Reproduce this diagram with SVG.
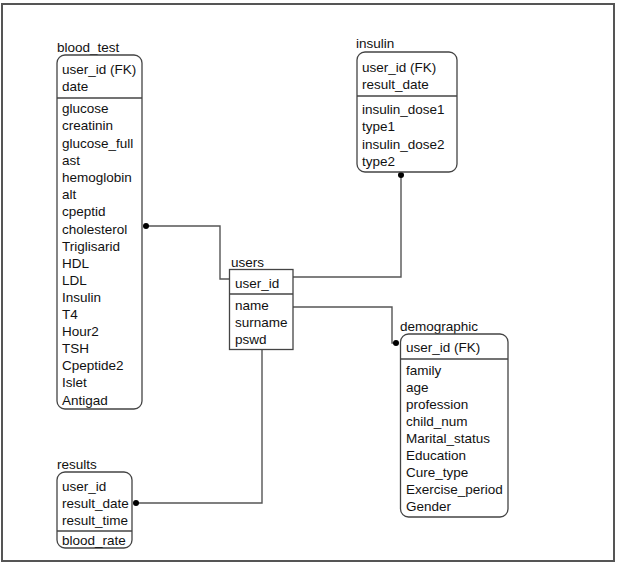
<svg xmlns="http://www.w3.org/2000/svg" width="617" height="563" viewBox="0 0 617 563">
<style>
text{font-family:"Liberation Sans",Arial,sans-serif;font-size:13.5px;fill:#111}
.box{fill:#fff;stroke:#444;stroke-width:1.3}
.div{stroke:#444;stroke-width:1.3}
.conn{fill:none;stroke:#555;stroke-width:1.4}
.dot{fill:#000}
</style>
<rect x="0" y="0" width="617" height="563" fill="#fff"/>
<rect x="2" y="4" width="612" height="557" fill="#fff" stroke="#555" stroke-width="2"/>

<g id="connectors">
<polyline class="conn" points="146,226 220,226 220,279 230,279"/>
<circle class="dot" cx="146" cy="226" r="3"/>
<polyline class="conn" points="401,175 401,277 293,277"/>
<circle class="dot" cx="401" cy="175" r="3"/>
<polyline class="conn" points="293,307 392,307 392,343 397,343"/>
<circle class="dot" cx="396" cy="343" r="3"/>
<polyline class="conn" points="262,350 262,503 137,503"/>
<circle class="dot" cx="136" cy="503" r="3"/>
</g>

<g id="blood_test">
<text x="57" y="52">blood_test</text>
<rect class="box" x="57" y="55" width="85" height="354" rx="8"/>
<line class="div" x1="57" y1="98" x2="142" y2="98"/>
<text x="62" y="74">user_id (FK)</text>
<text x="62" y="91">date</text>
<text x="62" y="113">glucose</text>
<text x="62" y="130">creatinin</text>
<text x="62" y="148">glucose_full</text>
<text x="62" y="165">ast</text>
<text x="62" y="182">hemoglobin</text>
<text x="62" y="199">alt</text>
<text x="62" y="216">cpeptid</text>
<text x="62" y="234">cholesterol</text>
<text x="62" y="251">Triglisarid</text>
<text x="62" y="268">HDL</text>
<text x="62" y="285">LDL</text>
<text x="62" y="302">Insulin</text>
<text x="62" y="319">T4</text>
<text x="62" y="336">Hour2</text>
<text x="62" y="353">TSH</text>
<text x="62" y="370">Cpeptide2</text>
<text x="62" y="387">Islet</text>
<text x="62" y="405">Antigad</text>
</g>

<g id="insulin">
<text x="356" y="48">insulin</text>
<rect class="box" x="357" y="52" width="100" height="120" rx="8"/>
<line class="div" x1="357" y1="96" x2="457" y2="96"/>
<text x="362" y="72">user_id (FK)</text>
<text x="362" y="89">result_date</text>
<text x="362" y="114">insulin_dose1</text>
<text x="362" y="131">type1</text>
<text x="362" y="149">insulin_dose2</text>
<text x="362" y="166">type2</text>
</g>

<g id="users">
<text x="231" y="267">users</text>
<rect class="box" x="229.5" y="269.5" width="63.5" height="80"/>
<line class="div" x1="229.5" y1="294" x2="293" y2="294"/>
<text x="235" y="288">user_id</text>
<text x="235" y="310">name</text>
<text x="235" y="327">surname</text>
<text x="235" y="344">pswd</text>
</g>

<g id="demographic">
<text x="400" y="331">demographic</text>
<rect class="box" x="400.5" y="334" width="107.5" height="183" rx="8"/>
<line class="div" x1="400.5" y1="359" x2="508" y2="359"/>
<text x="406" y="352">user_id (FK)</text>
<text x="406" y="375">family</text>
<text x="406" y="392">age</text>
<text x="406" y="409">profession</text>
<text x="406" y="426">child_num</text>
<text x="406" y="443">Marital_status</text>
<text x="406" y="460">Education</text>
<text x="406" y="477">Cure_type</text>
<text x="406" y="494">Exercise_period</text>
<text x="406" y="511">Gender</text>
</g>

<g id="results">
<text x="57" y="469">results</text>
<rect class="box" x="57" y="472" width="75" height="76" rx="8"/>
<line class="div" x1="57" y1="531" x2="132" y2="531"/>
<text x="62" y="491">user_id</text>
<text x="62" y="508">result_date</text>
<text x="62" y="525">result_time</text>
<text x="62" y="545">blood_rate</text>
</g>
</svg>
